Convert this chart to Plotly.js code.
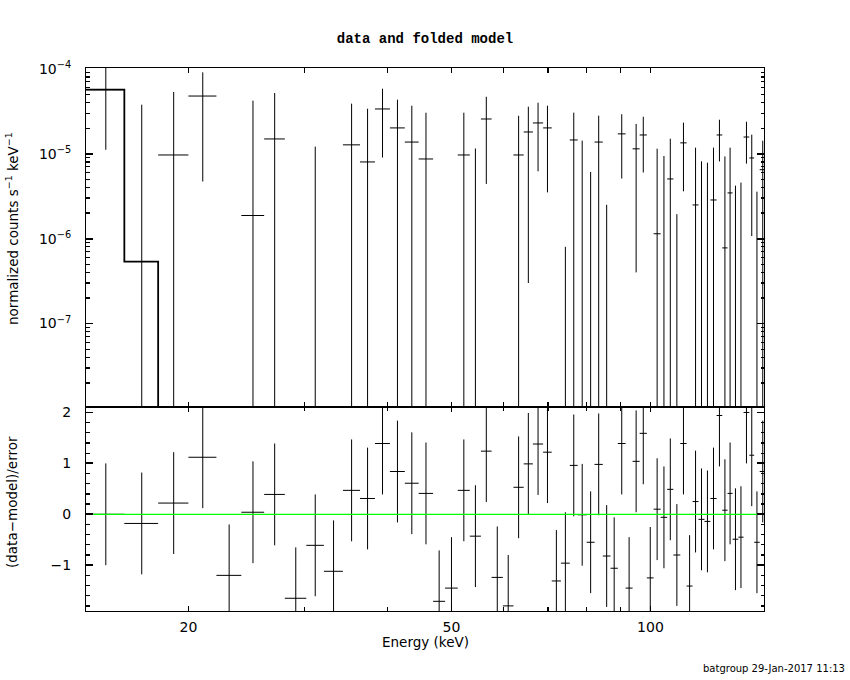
<!DOCTYPE html>
<html><head><meta charset="utf-8">
<script src="https://cdn.plot.ly/plotly-3.0.1.min.js"></script>
<style>html,body{margin:0;padding:0;background:#fff;}#chart{width:850px;height:680px;}</style>
</head><body><div id="chart"></div>
<script>
// Energy bin edges (keV)
const binEdges = [14.0, 16.0, 18.0, 20.0, 22.05, 24.05, 26.04, 27.98, 30.16, 32.06, 34.26, 36.36,
  38.3, 40.35, 42.5, 44.6, 46.9, 48.9, 51.1, 53.3, 55.4, 57.5, 59.8, 62.05, 64.3, 66.4, 68.8, 70.9,
  73.2, 75.5, 77.6, 80.07, 82.3, 84.7, 87.0, 89.25, 91.7, 93.96, 96.3, 98.75, 101.1, 103.6, 106.0,
  108.3, 110.95, 113.4, 115.8, 118.2, 120.7, 123.2, 125.9, 128.4, 130.8, 133.1, 135.8, 138.3, 141.1,
  143.5, 146.3, 149.4];
// normalized counts s^-1 keV^-1
const rate = [5.66e-5, -7.6e-6, 9.65e-6, 4.77e-5, -5.2e-5, 1.87e-6, 1.49e-5, -6.1e-5, -1.89e-5, -3.6e-5,
  1.27e-5, 7.99e-6, 3.36e-5, 2.01e-5, 1.37e-5, 8.66e-6, -3.8e-5, -3.2e-5, 9.65e-6, -8.6e-6,
  2.56e-5, -2.5e-5, -3.6e-5, 9.65e-6, 1.80e-5, 2.30e-5, 2.01e-5, -2.2e-5, -1.88e-5, 1.45e-5,
  -1.5e-7, -7.5e-6, 1.37e-5, -1.11e-5, -1.43e-5, 1.71e-5, -1.9e-5, 1.14e-5, 1.66e-5, -1.38e-5,
  1.14e-6, -6e-7, 5.04e-6, -7.9e-6, 1.34e-5, -1.34e-5, 2.49e-6, -9e-7, -1.27e-6, 2.85e-6,
  1.66e-5, 7.77e-7, 3.45e-6, -4.04e-6, -3.73e-6, 1.57e-5, 8.90e-6, -4.37e-6, 6.48e-6];
const rateErr = [4.55e-5, 4.53e-5, 4.35e-5, 4.3e-5, 4.3e-5, 4.02e-5, 3.69e-5, 3.7e-5, 3.10e-5, 3.2e-5,
  2.61e-5, 2.58e-5, 2.46e-5, 2.31e-5, 2.30e-5, 2.17e-5, 2.2e-5, 2.2e-5, 2.07e-5, 2.01e-5,
  2.12e-5, 2.0e-5, 2.0e-5, 1.83e-5, 1.77e-5, 1.68e-5, 1.66e-5, 1.7e-5, 1.96e-5, 1.59e-5,
  1.44e-5, 1.36e-5, 1.43e-5, 1.36e-5, 1.35e-5, 1.2e-5, 1.3e-5, 1.1e-5, 1.06e-5, 1.1e-5,
  1.03e-5, 9.99e-6, 9.97e-6, 9.84e-6, 9.8e-6, 9.5e-6, 9.28e-6, 9.02e-6, 9.1e-6, 8.92e-6,
  8.5e-6, 8.5e-6, 8.32e-6, 8.24e-6, 8.29e-6, 8.07e-6, 7.83e-6, 7.94e-6, 7.74e-6];
// (data-model)/error
const residual = [0.0, -0.18, 0.22, 1.12, -1.20, 0.04, 0.39, -1.65, -0.61, -1.12,
  0.47, 0.31, 1.39, 0.84, 0.61, 0.41, -1.71, -1.45, 0.47, -0.43,
  1.24, -1.24, -1.80, 0.53, 0.99, 1.38, 1.22, -1.31, -0.96, 0.96,
  -0.01, -0.55, 0.98, -0.82, -1.06, 1.39, -1.45, 1.04, 1.59, -1.25,
  0.10, -0.06, 0.49, -0.80, 1.39, -1.41, 0.25, -0.10, -0.14, 0.31,
  1.94, 0.08, 0.41, -0.49, -0.45, 2.0, 1.16, -0.55, 0.84];
// folded model (step)
const modelEdges = [14.0, 16.0, 18.0, 149.4];
const modelRate = [5.66e-5, 5.36e-7, 1e-9];

const energyRange = [14.0, 148.5];
const rateRange = [1.03e-8, 1.02e-4];
const residRange = [-1.9, 2.1];
const xTickVals = [20, 50, 100];
const xTickText = ['20', '50', '100'];
const xMinorVals = [30, 40, 60, 70, 80, 90];
const yTickVals = [1e-7, 1e-6, 1e-5, 1e-4];
const yTickText = ['10<sup>\u22127</sup>', '10<sup>\u22126</sup>', '10<sup>\u22125</sup>', '10<sup>\u22124</sup>'];

// minor ticks at 2..9 x decade (axis decoration)
const yMinorVals = [];
[-8, -7, -6, -5].forEach(function (p) {
  for (let k = 2; k <= 9; k++) yMinorVals.push(k * Math.pow(10, p));
});

// build error-bar crosses from the data arrays
const topX = [], topY = [], botX = [], botY = [];
for (let i = 0; i < rate.length; i++) {
  const lo = binEdges[i], hi = binEdges[i + 1], c = (lo + hi) / 2;
  const v = rate[i], e = rateErr[i];
  if (v > 0) { topX.push(lo, hi, null); topY.push(v, v, null); }
  if (v + e > 0) {
    const low = v - e > 0 ? v - e : 1e-14;
    topX.push(c, c, null); topY.push(low, v + e, null);
  }
  const r = residual[i];
  botX.push(lo, hi, null, c, c, null);
  botY.push(r, r, null, r - 1, r + 1, null);
}

const black = '#000000';
const tickFont = {family: 'DejaVu Sans', size: 14, color: black};
const lab = {family: 'DejaVu Sans', size: 13.5, color: black};

const traces = [
  {x: topX, y: topY, xaxis: 'x', yaxis: 'y', mode: 'lines', line: {color: black, width: 1}, hoverinfo: 'skip'},
  {x: modelEdges, y: modelRate.concat([modelRate[modelRate.length - 1]]), xaxis: 'x', yaxis: 'y',
   mode: 'lines', line: {color: black, width: 1.8, shape: 'hv'}, hoverinfo: 'skip'},
  {x: botX, y: botY, xaxis: 'x2', yaxis: 'y2', mode: 'lines', line: {color: black, width: 1}, hoverinfo: 'skip'},
  {x: energyRange, y: [0, 0], xaxis: 'x2', yaxis: 'y2', mode: 'lines', line: {color: '#00ff00', width: 1.3}, hoverinfo: 'skip'},
  // empty trace carrying the minor-tick overlay axis of the upper panel
  {x: [], y: [], xaxis: 'x', yaxis: 'y3', mode: 'lines', hoverinfo: 'skip'}
];

const axBase = {
  showline: true, linecolor: black, linewidth: 1, mirror: 'allticks', ticks: 'inside',
  showgrid: false, zeroline: false, tickcolor: black, tickfont: tickFont
};
const xLogRange = [Math.log10(energyRange[0]), Math.log10(energyRange[1])];
const yLogRange = [Math.log10(rateRange[0]), Math.log10(rateRange[1])];
const xMinor = {ticks: 'inside', tickmode: 'array', tickvals: xMinorVals, ticklen: 4, tickwidth: 1.2, tickcolor: black, showgrid: false};

const layout = {
  width: 850, height: 680,
  margin: {l: 86, r: 86, t: 68, b: 69},
  paper_bgcolor: '#ffffff', plot_bgcolor: '#ffffff',
  showlegend: false,
  title: {text: 'data and folded model', font: {family: 'Liberation Mono', size: 14, weight: 'bold', color: black},
          x: 0.5, xref: 'paper', xanchor: 'center', y: 1 - 38 / 680, yref: 'container', yanchor: 'middle'},
  xaxis: Object.assign({}, axBase, {
    type: 'log', range: xLogRange, anchor: 'y', domain: [0, 1],
    tickmode: 'array', tickvals: xTickVals, ticktext: xTickText, showticklabels: false, ticklen: 5, tickwidth: 1.8,
    minor: xMinor
  }),
  xaxis2: Object.assign({}, axBase, {
    type: 'log', range: xLogRange, anchor: 'y2', domain: [0, 1],
    tickmode: 'array', tickvals: xTickVals, ticktext: xTickText, showticklabels: true, ticklen: 5, tickwidth: 1.8,
    ticklabelstandoff: 3, minor: xMinor
  }),
  yaxis: Object.assign({}, axBase, {
    type: 'log', range: yLogRange, anchor: 'x', domain: [0.375, 1],
    tickmode: 'array', tickvals: yTickVals, ticktext: yTickText,
    ticklen: 7, tickwidth: 1.8, ticklabelstandoff: 11
  }),
  yaxis3: {
    type: 'log', range: yLogRange, overlaying: 'y', anchor: 'x', side: 'left',
    tickmode: 'array', tickvals: yMinorVals, showticklabels: false,
    ticks: 'inside', ticklen: 3.5, tickwidth: 1.2, tickcolor: black, mirror: 'allticks',
    showline: false, showgrid: false, zeroline: false
  },
  yaxis2: Object.assign({}, axBase, {
    range: residRange, anchor: 'x2', domain: [0, 0.375],
    tickmode: 'linear', tick0: 0, dtick: 1, ticklen: 7, tickwidth: 1.8, ticklabelstandoff: 11,
    minor: {ticks: 'inside', tick0: 0, dtick: 0.2, ticklen: 3.5, tickwidth: 1.2, tickcolor: black, showgrid: false}
  }),
  annotations: [
    {text: 'normalized counts s<sup>\u22121</sup> keV<sup>\u22121</sup>', textangle: -90, showarrow: false,
     xref: 'paper', yref: 'paper', x: (12 - 86) / 678, y: (611 - 229) / 543, xanchor: 'center', yanchor: 'middle', font: lab},
    {text: '(data\u2212model)/error', textangle: -90, showarrow: false,
     xref: 'paper', yref: 'paper', x: (12 - 86) / 678, y: (611 - 502) / 543, xanchor: 'center', yanchor: 'middle', font: lab},
    {text: 'Energy (keV)', showarrow: false, xref: 'paper', yref: 'paper', x: (425 - 86) / 678, y: (611 - 642) / 543,
     xanchor: 'center', yanchor: 'middle', font: lab},
    {text: 'batgroup 29-Jan-2017 11:13', showarrow: false, xref: 'paper', yref: 'paper', x: (847 - 86) / 678,
     y: (611 - 668) / 543, xanchor: 'right', yanchor: 'middle', font: {family: 'DejaVu Sans', size: 10, color: black}}
  ]
};

Plotly.newPlot('chart', traces, layout, {staticPlot: true, displayModeBar: false});
</script>
</body></html>
